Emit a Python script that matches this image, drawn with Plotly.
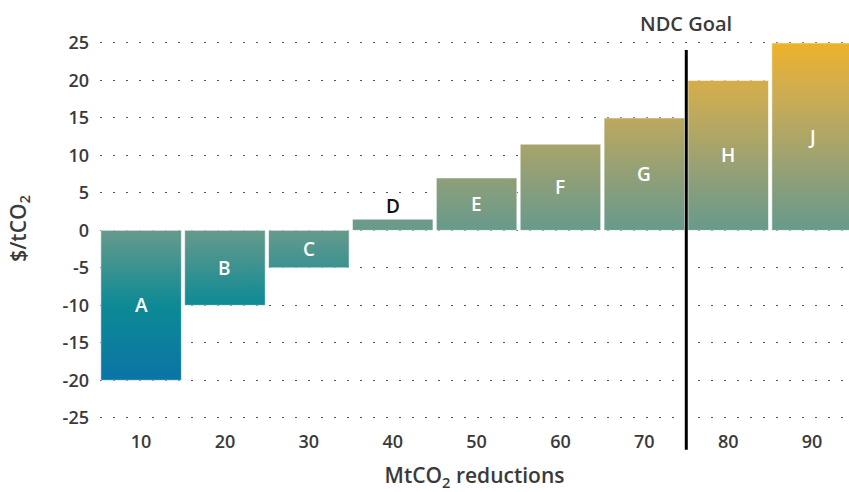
import plotly.graph_objects as go

# Abatement options: cumulative reduction midpoint (MtCO2) and cost ($/tCO2)
labels = ["A", "B", "C", "D", "E", "F", "G", "H", "J"]
reductions = [10, 20, 30, 40, 50, 60, 70, 80, 90]
costs = [-20, -10, -5, 1.5, 7, 11.5, 15, 20, 25]
ndc_goal = 75

x_ticks = [10, 20, 30, 40, 50, 60, 70, 80, 90]
y_ticks = [-25, -20, -15, -10, -5, 0, 5, 10, 15, 20, 25]

FONT = "Open Sans"
TEXT = "#3a3a3a"
half_w = 4.8

gradient = dict(
    type="vertical",
    start=-20,
    stop=25,
    colorscale=[
        [0.0, "#0A74A6"],
        [0.222, "#0D8A95"],
        [0.444, "#679A8C"],
        [0.6, "#8F9F78"],
        [0.778, "#BCA95E"],
        [0.889, "#D6AE4A"],
        [1.0, "#EEB22A"],
    ],
)

fig = go.Figure()

# Each option drawn as a filled rectangle sharing one cost-based colour gradient
for lab, x, c in zip(labels, reductions, costs):
    fig.add_trace(go.Scatter(
        x=[x - half_w, x + half_w, x + half_w, x - half_w, x - half_w],
        y=[0, 0, c, c, 0],
        mode="lines",
        fill="toself",
        fillgradient=gradient,
        line=dict(color="rgba(255,255,255,0.55)", width=1),
        hoverinfo="skip",
        showlegend=False,
        name=lab,
    ))

# Option labels: inside the bar, or above it when the bar is too thin
for lab, x, c in zip(labels, reductions, costs):
    inside = abs(c) >= 4
    fig.add_annotation(
        x=x, y=c / 2 if inside else c + 1.8,
        text=lab, showarrow=False,
        font=dict(family=FONT, size=19, weight=600,
                  color="white" if inside else "#111111"),
    )

# NDC goal marker
fig.add_shape(
    type="line", xref="x", yref="paper",
    x0=ndc_goal, x1=ndc_goal, y0=-0.052, y1=0.945,
    line=dict(color="black", width=3),
)
fig.add_annotation(
    x=ndc_goal, xref="x", y=1.012, yref="paper",
    text="NDC Goal", showarrow=False, yanchor="middle",
    font=dict(family=FONT, size=20, weight=600, color=TEXT),
)

fig.update_layout(
    width=849, height=492,
    margin=dict(l=100, r=0, t=28, b=63),
    paper_bgcolor="white",
    plot_bgcolor="white",
    font=dict(family=FONT, color=TEXT),
    xaxis=dict(
        range=[5.1, 94.4],
        tickvals=x_ticks,
        ticktext=[str(v) for v in x_ticks],
        ticks="",
        showgrid=False,
        zeroline=False,
        showline=False,
        tickfont=dict(family=FONT, size=18, weight=600, color=TEXT),
        title=dict(text="MtCO<sub>2</sub> reductions",
                   font=dict(family=FONT, size=21, weight=600, color=TEXT),
                   standoff=16),
    ),
    yaxis=dict(
        range=[-26.5, 27],
        tickvals=y_ticks,
        ticktext=[str(v) for v in y_ticks],
        ticks="",
        showgrid=True,
        gridcolor="#555555",
        gridwidth=1,
        griddash="2px,11px",
        zeroline=False,
        showline=False,
        ticklabelstandoff=10,
        tickfont=dict(family=FONT, size=18, weight=600, color=TEXT),
        title=dict(text="$/tCO<sub>2</sub>",
                   font=dict(family=FONT, size=21, weight=600, color=TEXT),
                   standoff=30),
    ),
)

fig.write_html("out.html")
